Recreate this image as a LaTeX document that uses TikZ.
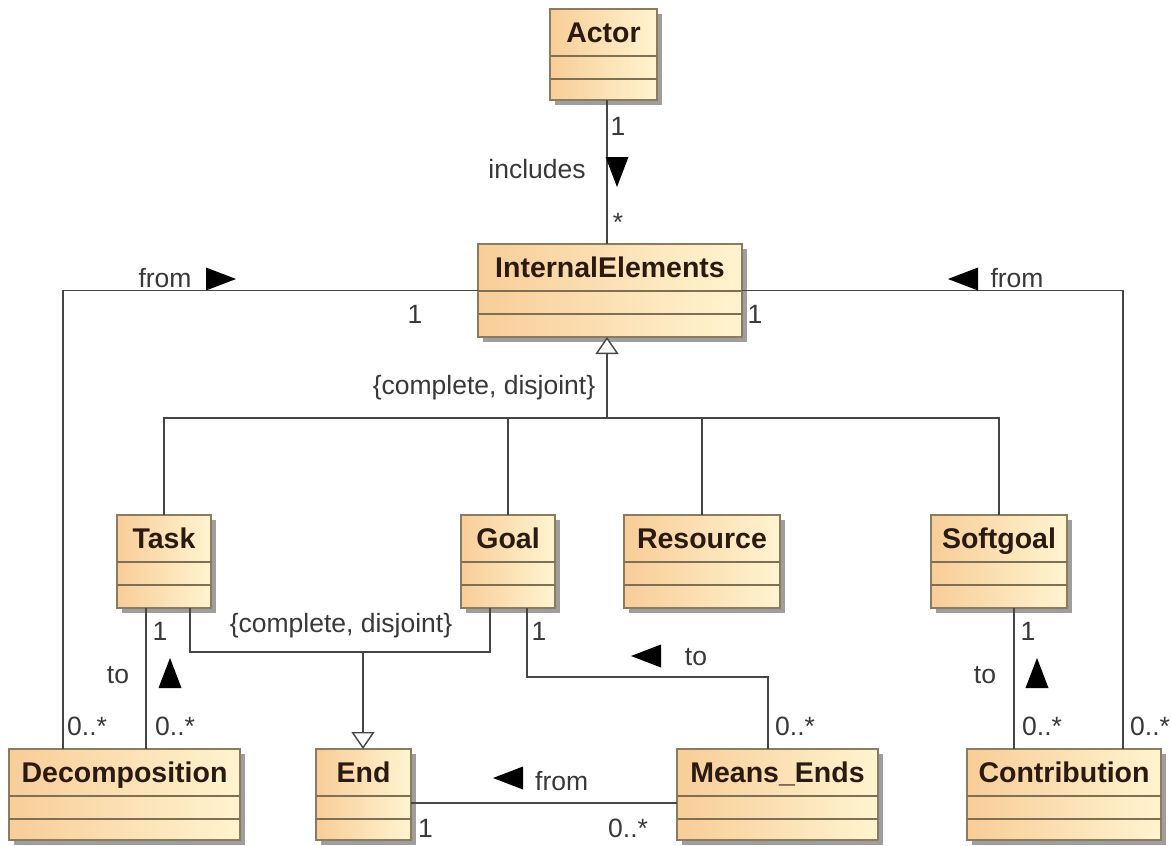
\documentclass[tikz,border=0pt]{standalone}
\usepackage{fontspec}
\setmainfont{Liberation Sans}
\usetikzlibrary{arrows.meta}

\definecolor{peach}{HTML}{F8CD98}
\definecolor{cream}{HTML}{FFF4D0}
\definecolor{boxedge}{HTML}{8C7C5E}
\definecolor{wire}{HTML}{454545}
\definecolor{inktext}{HTML}{383838}
\definecolor{nameink}{HTML}{2A1A12}

\tikzset{
  classbox/.style={draw=boxedge, line width=1.4pt, left color=peach, right color=cream,
                   inner sep=0pt, outer sep=0pt},
  boxshadow/.style={fill=black!38},
  compline/.style={draw=boxedge!90!black, line width=1.4pt},
  classname/.style={font=\fontsize{28.5}{30}\selectfont\bfseries, text=nameink,
                    inner sep=0pt, anchor=base},
  lbl/.style={font=\fontsize{26.5}{28}\selectfont, text=inktext, inner sep=0pt, anchor=base},
  lblw/.style={lbl, anchor=base west},
  wireline/.style={draw=wire, line width=1.6pt},
  genarrow/.style={wireline, -{Triangle[length=17pt, width=23pt, fill=white, line width=1.4pt]}},
  navtri/.style={fill=black}
}

% UML class: name, left, top, width, height, title
\newcommand{\umlclass}[6]{%
  \fill[boxshadow] (#2+5,#3+5) rectangle ++(#4,#5);
  \node[classbox, anchor=north west, minimum width=#4pt, minimum height=#5pt] (#1) at (#2,#3) {};
  \draw[compline] ([yshift=-47pt]#1.north west) -- ([yshift=-47pt]#1.north east);
  \draw[compline] ([yshift=-70pt]#1.north west) -- ([yshift=-70pt]#1.north east);
  \node[classname] (#1-title) at ([yshift=-33pt]#1.north) {#6};
}

% navigation triangle: x, y, direction angle
\newcommand{\navarrow}[3]{%
  \fill[navtri, shift={(#1,#2)}, rotate=#3] (15pt,0pt) -- (-15pt,11.5pt) -- (-15pt,-11.5pt) -- cycle;
}

\begin{document}
\begin{tikzpicture}[x=1pt, y=-1pt]
\useasboundingbox (0,0) rectangle (1171,846);

% classes
\umlclass{actor}{550}{9}{107}{91}{Actor}
\umlclass{ie}{478}{244}{264}{93}{InternalElements}
\umlclass{task}{117}{515}{94}{93}{Task}
\umlclass{goal}{461}{515}{94}{93}{Goal}
\umlclass{resource}{624}{515}{156}{93}{Resource}
\umlclass{softgoal}{931}{515}{136}{93}{Softgoal}
\umlclass{decomp}{9}{749}{231}{91}{Decomposition}
\umlclass{end}{316}{749}{95}{91}{End}
\umlclass{means}{677}{749}{201}{91}{Means\_Ends}
\umlclass{contrib}{967}{749}{194}{91}{Contribution}

% routing points
\coordinate (xa) at (607,0);
\coordinate (gj) at (607,418);
\coordinate (dcx) at (63,0);
\coordinate (ccx) at (1123,0);
\coordinate (tdx) at (146,0);
\coordinate (g1) at (190,652);
\coordinate (g2) at (490,652);
\coordinate (ej) at (363,652);
\coordinate (gm) at (527,677);
\coordinate (mm) at (768,677);
\coordinate (em) at (0,803);
\coordinate (scx) at (1014,0);

% Actor includes InternalElements
\draw[wireline] (actor.south -| xa) -- (ie.north -| xa);

% InternalElements generalization set
\draw[genarrow] (gj) -- (ie.south -| gj);
\draw[wireline] (task.north) |- (gj) -| (softgoal.north);
\draw[wireline] (goal.north) -- (goal.north |- gj);
\draw[wireline] (resource.north) -- (resource.north |- gj);

% from associations
\draw[wireline] (ie.west) -| (decomp.north -| dcx);
\draw[wireline] (ie.east) -| (contrib.north -| ccx);

% to associations
\draw[wireline] (task.south -| tdx) -- (decomp.north -| tdx);
\draw[wireline] (softgoal.south -| scx) -- (contrib.north -| scx);

% End generalization
\draw[wireline] (task.south -| g1) -- (g1) -- (g2) -- (goal.south -| g2);
\draw[genarrow] (ej) -- (end.north -| ej);

% Goal to Means_Ends
\draw[wireline] (goal.south -| gm) -- (gm) -- (mm) -- (means.north -| mm);

% Means_Ends from End
\draw[wireline] (end.east |- em) -- (means.west |- em);

% labels
\node[lbl] (l1) at (618,135) {1};
\node[lbl] (l2) at (537,178) {includes};
\navarrow{617}{172}{-90}
\node[lbl] (l3) at (618,231) {*};

\node[lbl] (l4) at (165,287) {from};
\navarrow{221}{279}{0}
\node[lbl] (l5) at (415,323) {1};

\navarrow{963}{279}{180}
\node[lbl] (l6) at (1017,287) {from};
\node[lbl] (l7) at (755,323) {1};

\node[lbl] (l8) at (484,394) {\{complete, disjoint\}};
\node[lbl] (l9) at (341,632) {\{complete, disjoint\}};

\node[lbl] (l10) at (160,640) {1};
\node[lbl] (l11) at (118,683) {to};
\navarrow{170}{673}{90}
\node[lblw] (l12) at (67,735) {0..*};
\node[lblw] (l13) at (155,735) {0..*};

\node[lbl] (l14) at (539,640) {1};
\navarrow{646}{656}{180}
\node[lbl] (l15) at (696,665) {to};
\node[lblw] (l16) at (775,735) {0..*};

\navarrow{508}{778}{180}
\node[lblw] (l17) at (535,790) {from};
\node[lblw] (l18) at (418,837) {1};
\node[lblw] (l19) at (608,837) {0..*};

\node[lbl] (l20) at (1028,640) {1};
\node[lbl] (l21) at (985,683) {to};
\navarrow{1037}{673}{90}
\node[lblw] (l22) at (1022,735) {0..*};
\node[lblw] (l23) at (1130,735) {0..*};

\end{tikzpicture}
\end{document}
